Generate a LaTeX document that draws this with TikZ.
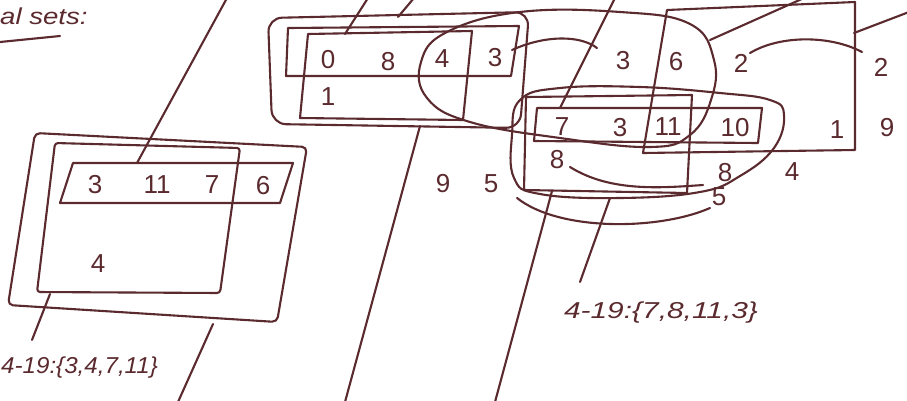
\documentclass[tikz,border=0pt]{standalone}
\usepackage{fontspec}
\setmainfont{Liberation Sans}
\usepackage{graphicx}
\definecolor{ink}{HTML}{5A2A2E}
\begin{document}
\begin{tikzpicture}[x=1pt,y=-1pt,
  pen/.style={draw=ink, line width=2.1pt, line join=round, line cap=round},
  num/.style={text=ink, font=\fontsize{26}{28}\selectfont, inner sep=0pt},
  lbl/.style={text=ink, font=\itshape\fontsize{23}{25}\selectfont, inner sep=0pt}]
\useasboundingbox[fill=white] (0,0) rectangle (907,400);

% title
\node[lbl, anchor=west] (title) at (0,16) {\scalebox{1.2}[1]{al sets:}};
\coordinate (ul1) at (0,42); \coordinate (ul2) at (60,36);
\draw[pen] (ul1) -- (ul2);

% ---------------- left group
\draw[pen, rounded corners=5pt] (35,133) -- (307,147) -- (277,322) -- (8,305) -- cycle;
\draw[pen, rounded corners=3pt] (55,143) -- (240,148) -- (220,293) -- (37,292) -- cycle;
\draw[pen] (73,163) -- (293,163) -- (280,203) -- (60,203) -- cycle;
\node[num] (a3) at (95,185) {3};
\node[num] (a11) at (157,185) {11};
\node[num] (a7) at (212,185) {7};
\node[num] (a6) at (263,186) {6};
\node[num] (a4) at (98,264) {4};
\node[lbl, anchor=west] (labA) at (1,368) {\scalebox{1.05}[1]{4-19:\{3,4,7,11\}}};
\coordinate (la1) at (227,-2); \coordinate (la2) at (137,163);
\draw[pen] (la1) -- (la2);
\coordinate (lb1) at (50,294); \coordinate (lb2) at (32,340);
\draw[pen] (lb1) -- (lb2);
\coordinate (lc1) at (213,324); \coordinate (lc2) at (178,402);
\draw[pen] (lc1) -- (lc2);

% ---------------- middle group
\draw[pen, rounded corners=14pt] (268,18) -- (529,12) -- (520,128) -- (272,124) -- cycle;
\draw[pen] (288,28) -- (519,26) -- (511,76) -- (286,76) -- cycle;
\draw[pen] (308,34) -- (472,31) -- (463,120) -- (300,118) -- cycle;
\draw[pen] plot[smooth cycle, tension=0.7] coordinates {(447,32) (520,12) (620,12) (690,24) (714,60) (711,100) (690,135) (650,147) (560,138) (470,122) (427,98) (421,62)};
\node[num] (m0) at (328,60) {0};
\node[num] (m8) at (388,62) {8};
\node[num] (m4) at (442,59) {4};
\node[num] (m3) at (495,58) {3};
\node[num] (m1) at (328,97) {1};
\coordinate (lm1) at (345,34); \coordinate (lm2) at (368,-2);
\draw[pen] (lm1) -- (lm2);
\coordinate (ln1) at (398,17); \coordinate (ln2) at (414,-2);
\draw[pen] (ln1) -- (ln2);
\coordinate (lo1) at (512,50); \coordinate (lo2) at (597,48);
\draw[pen] (lo1) .. controls (545,35) and (580,35) .. (lo2);
\coordinate (lp1) at (420,126); \coordinate (lp2) at (345,402);
\draw[pen] (lp1) -- (lp2);

% ---------------- lower group
\draw[pen] plot[smooth cycle, tension=0.7] coordinates {(520,100) (560,88) (640,87) (720,93) (770,100) (784,115) (774,148) (740,176) (700,192) (620,198) (540,194) (514,178) (512,135)};
\draw[pen] (526,97) -- (692,95) -- (687,193) -- (524,190) -- cycle;
\draw[pen] (537,108) -- (762,108) -- (758,143) -- (534,141) -- cycle;
\node[num] (b7) at (562,127) {7};
\node[num] (b3) at (620,128) {3};
\node[num] (b11) at (668,127) {11};
\node[num] (b10) at (735,128) {10};
\node[num] (b8a) at (557,160) {8};
\node[num] (b8b) at (725,173) {8};
\node[num] (b5a) at (719,197) {5};
\node[num] (b4) at (792,172) {4};
\node[num] (b9) at (443,184) {9};
\node[num] (b5b) at (491,184) {5};
\coordinate (c1) at (570,167); \coordinate (c2) at (703,185);
\draw[pen] (c1) .. controls (610,192) and (660,188) .. (c2);
\coordinate (d1) at (517,198); \coordinate (d2) at (710,208);
\draw[pen] (d1) .. controls (560,232) and (660,230) .. (d2);
\coordinate (le1) at (552,191); \coordinate (le2) at (495,402);
\draw[pen] (le1) -- (le2);
\coordinate (lf1) at (610,198); \coordinate (lf2) at (580,282);
\draw[pen] (lf1) -- (lf2);
\coordinate (lg1) at (615,-2); \coordinate (lg2) at (560,108);
\draw[pen] (lg1) -- (lg2);
\node[lbl] (labB) at (661,313) {\scalebox{1.3}[1]{4-19:\{7,8,11,3\}}};

% ---------------- right group
\draw[pen] (667,10) -- (855,2) -- (855,150) -- (643,153) -- cycle;
\node[num] (r6) at (676,62) {6};
\node[num] (r2) at (741,63) {2};
\node[num] (r1) at (837,130) {1};
\node[num] (r2b) at (881,67) {2};
\node[num] (r9) at (887,128) {9};
\node[num] (r3) at (623,61) {3};
\coordinate (lh1) at (710,40); \coordinate (lh2) at (804,-2);
\draw[pen] (lh1) -- (lh2);
\coordinate (li1) at (750,53); \coordinate (li2) at (862,52);
\draw[pen] (li1) .. controls (780,35) and (830,35) .. (li2);
\coordinate (lj1) at (854,33); \coordinate (lj2) at (909,12);
\draw[pen] (lj1) -- (lj2);
\end{tikzpicture}
\end{document}
